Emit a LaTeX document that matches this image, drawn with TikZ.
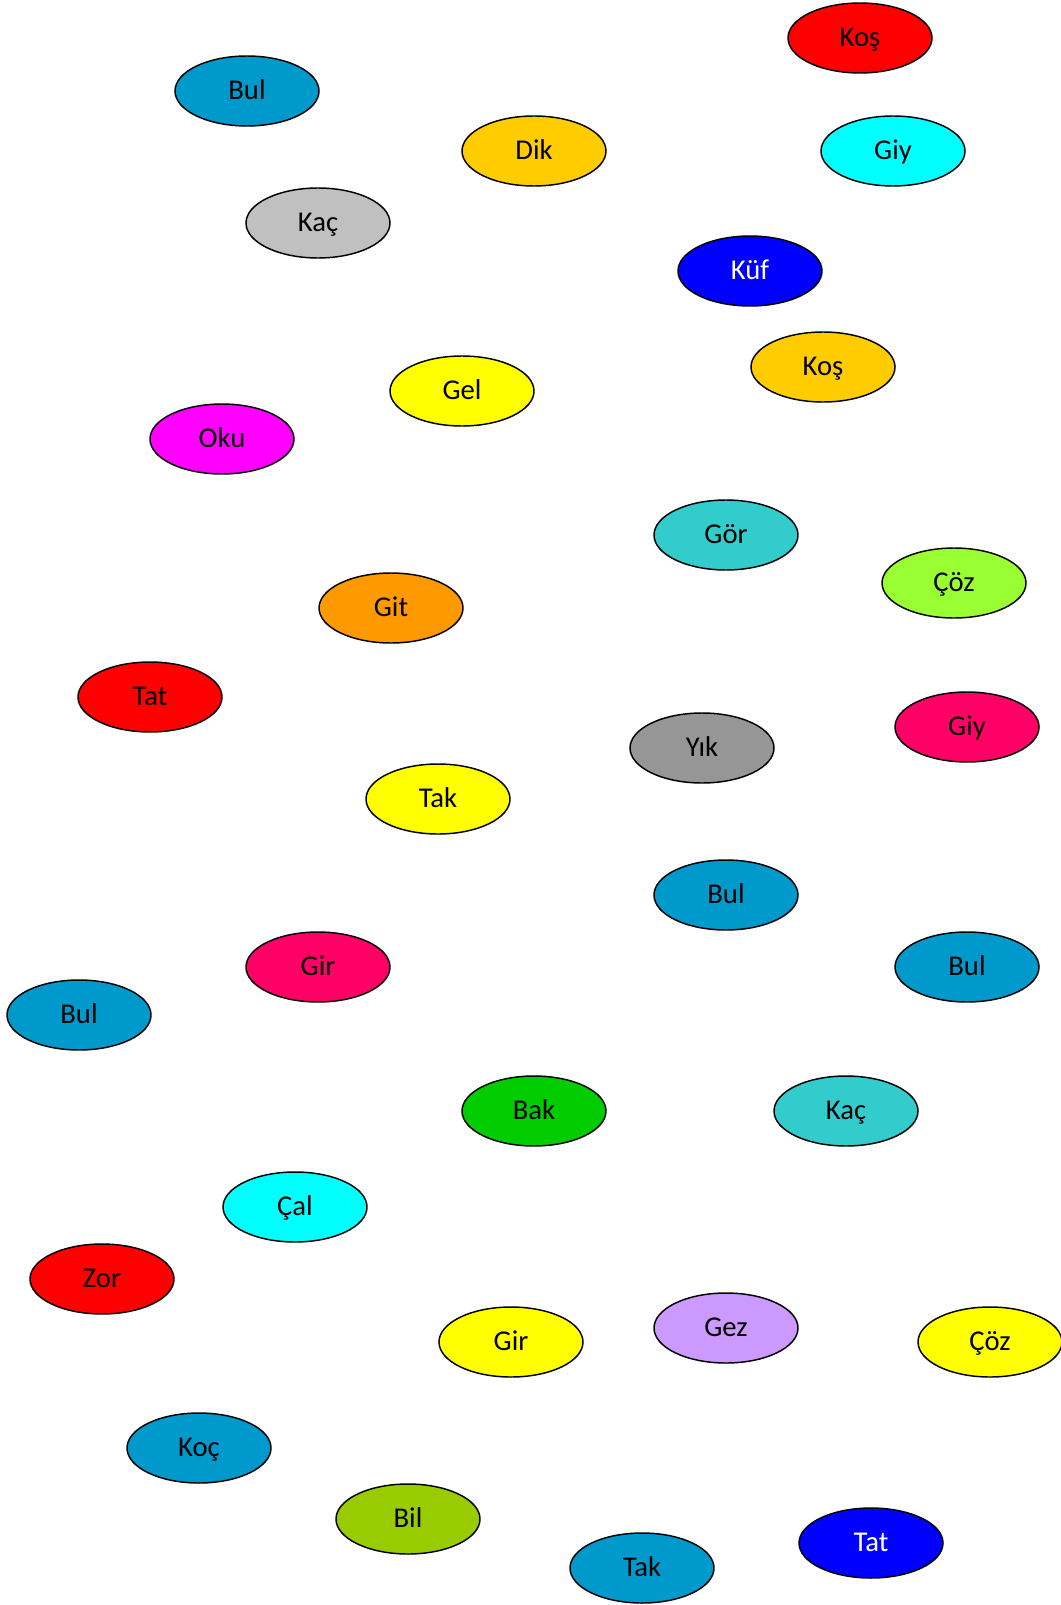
\documentclass[tikz,border=0pt]{standalone}
\usepackage{fontspec}
\setmainfont{Carlito}
\usepackage{tikz}
\usetikzlibrary{shapes.geometric}
\definecolor{cBlue}{HTML}{0099CC}
\definecolor{cGold}{HTML}{FFCC00}
\definecolor{cTeal}{HTML}{33CCCC}
\definecolor{cLime}{HTML}{99FF33}
\definecolor{cOrange}{HTML}{FF9900}
\definecolor{cRose}{HTML}{FF0066}
\definecolor{cGreen}{HTML}{00CC00}
\definecolor{cLilac}{HTML}{CC99FF}
\definecolor{cOlive}{HTML}{99CC00}
\definecolor{cSilver}{HTML}{C0C0C0}
\definecolor{cDim}{HTML}{969696}
\definecolor{cRed}{HTML}{FF0000}
\definecolor{cNavy}{HTML}{0000FF}
\definecolor{cCyan}{HTML}{00FFFF}
\definecolor{cYellow}{HTML}{FFFF00}
\definecolor{cPink}{HTML}{FF00FF}
\tikzset{
  blob/.style={ellipse, draw=black, line width=1.1pt, inner sep=0pt,
    minimum width=108pt, minimum height=52.5pt,
    text height=13pt, text depth=0pt,
    font=\fontsize{21.5}{24}\selectfont, text=black}
}

\begin{document}
\begin{tikzpicture}[x=0.75pt, y=-0.75pt]
  \useasboundingbox (0,0) rectangle (1060,1605);
  % top band
  \node[blob, fill=cRed]    (kos1) at (860,38)  {Koş};
  \node[blob, fill=cBlue]   (bul1) at (247,91)  {Bul};
  \node[blob, fill=cGold]   (dik)  at (534,151) {Dik};
  \node[blob, fill=cCyan]   (giy1) at (893,151) {Giy};
  \node[blob, fill=cSilver] (kac1) at (318,223) {Kaç};
  \node[blob, fill=cNavy, text=white] (kuf) at (750,271) {Küf};
  \node[blob, fill=cGold]   (kos2) at (823,367) {Koş};
  \node[blob, fill=cYellow] (gel)  at (462,391) {Gel};
  \node[blob, fill=cPink]   (oku)  at (222,439) {Oku};
  % middle band
  \node[blob, fill=cTeal]   (gor)  at (726,535) {Gör};
  \node[blob, fill=cLime]   (coz1) at (954,583) {Çöz};
  \node[blob, fill=cOrange] (git)  at (391,608) {Git};
  \node[blob, fill=cRed]    (tat1) at (150,697) {Tat};
  \node[blob, fill=cDim]    (yik)  at (702,748) {Yık};
  \node[blob, fill=cRose]   (giy2) at (967,727) {Giy};
  \node[blob, fill=cYellow] (tak1) at (438,799) {Tak};
  \node[blob, fill=cBlue]   (bul2) at (726,895) {Bul};
  \node[blob, fill=cRose]   (gir1) at (318,967) {Gir};
  \node[blob, fill=cBlue]   (bul3) at (967,967) {Bul};
  \node[blob, fill=cBlue]   (bul4) at (79,1015) {Bul};
  % bottom band
  \node[blob, fill=cGreen]  (bak)  at (534,1111) {Bak};
  \node[blob, fill=cTeal]   (kac2) at (846,1111) {Kaç};
  \node[blob, fill=cCyan]   (cal)  at (295,1207) {Çal};
  \node[blob, fill=cRed]    (zor)  at (102,1279) {Zor};
  \node[blob, fill=cYellow] (gir2) at (511,1342) {Gir};
  \node[blob, fill=cLilac]  (gez)  at (726,1328) {Gez};
  \node[blob, fill=cYellow] (coz2) at (990,1342) {Çöz};
  \node[blob, fill=cBlue]   (koc)  at (199,1448) {Koç};
  \node[blob, fill=cOlive]  (bil)  at (408,1519) {Bil};
  \node[blob, fill=cBlue]   (tak2) at (642,1568) {Tak};
  \node[blob, fill=cNavy, text=white] (tat2) at (871,1543) {Tat};
\end{tikzpicture}
\end{document}
